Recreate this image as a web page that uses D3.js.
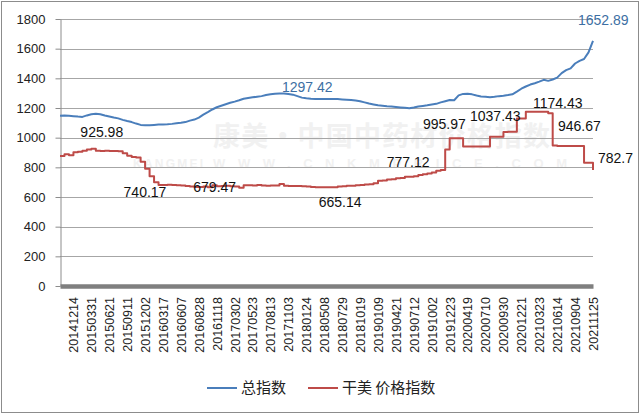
<!DOCTYPE html>
<html><head><meta charset="utf-8">
<script src="https://cdn.jsdelivr.net/npm/d3@7/dist/d3.min.js"></script>
<style>body{margin:0;background:#fff}svg{display:block}</style>
</head><body>
<svg id="chart" width="640" height="414"></svg>
<script>
// ---------- data ----------
const yTicks = [0, 200, 400, 600, 800, 1000, 1200, 1400, 1600, 1800];
const tickLabels = ["20141214","20150331","20150621","20150911","20151202","20160317","20160607","20160828","20161118","20170302","20170523","20170813","20171103","20180124","20180508","20180729","20181019","20190109","20190421","20190712","20191002","20191223","20200419","20200710","20200930","20201221","20210323","20210614","20210904","20211125"];
const seriesNames = ["总指数", "干美 价格指数"];
const totalIndex = [1148,1150,1148,1145,1142,1140,1150,1158,1162,1158,1150,1143,1136,1130,1120,1112,1105,1095,1086,1084,
  1084,1086,1088,1089,1090,1093,1097,1100,1105,1115,1122,1135,1155,1172,1190,1205,1215,1225,1235,1243,
  1252,1262,1267,1272,1276,1280,1287,1293,1296,1297,1297.42,1295,1290,1280,1270,1265,1262,1261,1261,1260,
  1260,1261,1260,1258,1256,1254,1250,1245,1238,1230,1224,1218,1215,1212,1210,1207,1204,1201,1198,1203,
  1210,1214,1218,1224,1228,1238,1246,1254,1252,1285,1295,1296,1292,1284,1278,1276,1273,1276,1280,1283,
  1287,1292,1310,1330,1345,1358,1367,1378,1390,1383,1392,1405,1435,1455,1467,1500,1518,1530,1575,1652.89];
const gingerIndex = [876,888,882,902,905,912,921,925.98,912,910,912,910,910,908,895,878,870,866,838,790,
  740.17,700,681,681,683,681,680,678,675,670,668,668,670,665,679.47,672,674,676,672,670,
  662,680,679,678,681,678,676,677,678,688,676,675,674,674,673,670,667,665,665,665,
  665.14,665,670,672,676,676,680,681,684,686,692,710,712,718,720,726,728,737,737,740,
  748,753,758,765,777.12,782,920,995.97,996,996,940,940,940,940,940,940,1007,1007,1007,1037.43,
  1040,1040,1130,1130,1174.43,1174,1174,1174,1174,1164,946.67,944,944,944,944,944,944,831,831,782.7];
// value labels: [series, point index, text]
const valueLabels = [
  [0, 50, "1297.42"], [0, 119, "1652.89"],
  [1, 7, "925.98"], [1, 20, "740.17"], [1, 34, "679.47"], [1, 60, "665.14"], [1, 84, "777.12"],
  [1, 87, "995.97"], [1, 99, "1037.43"], [1, 104, "1174.43"], [1, 110, "946.67"], [1, 119, "782.7"]
];
const watermarkTexts = ["康美·中国中药材价格指数", "KANGMEI", "WWW.CNKMPRICE.COM"];

// ---------- layout / style ----------
const labelStart = 3, labelStep = 4;
const labelOffsets = [[-2,-2],[-15,-16],[-11,-12],[-26,21],[-19,6.5],[-10,20],[-49.5,-4],[-26.7,-9.3],[-33.4,-11],[7.2,-3.5],[5.3,-14.6],[5,-6.6]];
const colors = ["#4a7ebb", "#be4b48"];
const labelColors = ["#3d6fa3", "#111"];
const L = 60, R = 593, T = 19, B = 286;

const svg = d3.select("#chart");
svg.append("rect").attr("x",1.5).attr("y",1.5).attr("width",637).attr("height",411)
  .attr("fill","#fff").attr("stroke","#8c8c8c").attr("stroke-width",1);

const n = totalIndex.length;
const x = d3.scaleLinear().domain([0, n - 1]).range([L, R]);
const y = d3.scaleLinear().domain([0, 1800]).range([B, T]);

// watermark (very faint, behind everything)
const wm = svg.append("g").attr("fill", "#f1f1f1").attr("font-weight", "bold");
const wmSpec = [[213, 146, 337, 27, "'Noto Sans CJK SC', sans-serif"], [133, 168, 70, 12, "'Liberation Sans', Arial, sans-serif"], [213, 168, 354, 13, "'Liberation Sans', Arial, sans-serif"]];
watermarkTexts.forEach((t, k) => {
  const s = wmSpec[k];
  wm.append("text").attr("x", s[0]).attr("y", s[1]).attr("textLength", s[2]).attr("lengthAdjust", "spacing")
    .attr("font-size", s[3]).attr("font-family", s[4]).text(t);
});

// grid
svg.append("g").selectAll("line").data(yTicks.filter(d => d > 0)).join("line")
  .attr("x1", L).attr("x2", R).attr("y1", d => Math.round(y(d)) + 0.5).attr("y2", d => Math.round(y(d)) + 0.5)
  .attr("stroke", "#a6a6a6").attr("stroke-width", 1);

// y axis
const ya = svg.append("g").attr("transform", `translate(${L + 0.5},0)`)
  .call(d3.axisLeft(y).tickValues(yTicks).tickFormat(d3.format("d")).tickSize(5).tickPadding(10).tickSizeOuter(0));
ya.select(".domain").attr("stroke", "#8c8c8c");
ya.selectAll(".tick line").attr("stroke", "#8c8c8c");
ya.selectAll("text").attr("font-family", "'Liberation Sans', Arial, sans-serif").attr("font-size", 13).attr("fill", "#222");

// x axis (category labels)
const labelIdx = tickLabels.map((d, i) => labelStart + i * labelStep);
const xa = svg.append("g").attr("transform", `translate(0,${B})`)
  .call(d3.axisBottom(x).tickValues(labelIdx).tickSize(0).tickSizeOuter(0)
    .tickFormat((d, i) => tickLabels[i]));
xa.select(".domain").attr("stroke", "#7f7f7f").attr("stroke-width", 4.5);
xa.selectAll("text").attr("transform", "rotate(-90)").attr("text-anchor", "end")
  .attr("x", -11).attr("y", 0).attr("dy", "0.35em")
  .attr("font-family", "'Liberation Sans', Arial, sans-serif").attr("font-size", 12.5).attr("fill", "#222");

// lines
const series = [totalIndex, gingerIndex];
const curves = [d3.curveLinear, d3.curveStepAfter];
series.forEach((s, k) => {
  svg.append("path").datum(s)
    .attr("fill", "none").attr("stroke", colors[k]).attr("stroke-width", 2).attr("stroke-linejoin", "round")
    .attr("d", d3.line().x((d, i) => x(i)).y(d => y(d)).curve(curves[k]));
});

// value labels
svg.append("g").selectAll("text").data(valueLabels).join("text")
  .attr("x", (d, j) => x(d[1]) + labelOffsets[j][0])
  .attr("y", (d, j) => y(series[d[0]][d[1]]) + labelOffsets[j][1])
  .attr("fill", d => labelColors[d[0]])
  .attr("font-family", "'Liberation Sans', Arial, sans-serif").attr("font-size", 14)
  .text(d => d[2]);

// legend
const lg = svg.append("g").attr("transform", "translate(207,388)");
const lgX = [0, 101];
seriesNames.forEach((nm, k) => {
  lg.append("line").attr("x1", lgX[k]).attr("x2", lgX[k] + 30).attr("y1", 0).attr("y2", 0)
    .attr("stroke", colors[k]).attr("stroke-width", 2);
  lg.append("text").attr("x", lgX[k] + 34).attr("y", 0).attr("dy", "0.36em")
    .attr("font-family", "'Noto Sans CJK SC', sans-serif").attr("font-size", 15).attr("fill", "#222")
    .text(nm);
});
</script>
</body></html>
